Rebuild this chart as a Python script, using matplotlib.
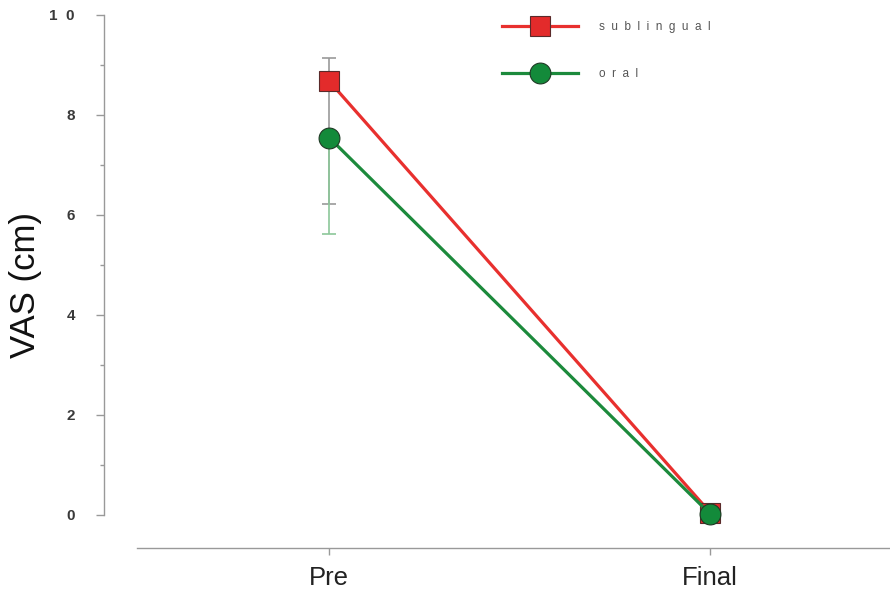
import matplotlib
matplotlib.use("Agg")
import matplotlib.pyplot as plt
import numpy as np

plt.rcParams['font.family'] = ['Liberation Sans', 'DejaVu Sans']

timepoints = ["Pre", "Final"]
sub_mean = [8.68, 0.05]
sub_err_lo = [2.46, 0.0]
sub_err_hi = [0.46, 0.0]
oral_mean = [7.55, 0.02]
oral_err_lo = [1.93, 0.0]
oral_err_hi = [0.0, 0.0]
yticks = [0, 2, 4, 6, 8, 10]
ytick_labels = ["0", "2", "4", "6", "8", "1  0"]

fig = plt.figure(figsize=(8.9, 5.89), dpi=100)
ax = fig.add_axes([104/890, 41/589, 786/890, 533/589])

x = np.arange(len(timepoints))
red = "#e8302e"
green = "#1c8a3c"

# error bars first
ax.errorbar(x, sub_mean, yerr=[sub_err_lo, sub_err_hi], fmt='none',
            ecolor="#999999", elinewidth=1.2, capsize=5, capthick=1.2, zorder=2)
ax.errorbar(x, oral_mean, yerr=[oral_err_lo, oral_err_hi], fmt='none',
            ecolor="#8cc79a", elinewidth=1.2, capsize=5, capthick=1.2, zorder=2)

ax.plot(x, sub_mean, color=red, lw=2.3, marker='s', ms=14,
        markerfacecolor="#e32b2b", markeredgecolor="#5a2a2a", mew=0.8,
        label="s  u  b  l  i  n  g  u  a  l", zorder=3, clip_on=False)
ax.plot(x, oral_mean, color=green, lw=2.3, marker='o', ms=15,
        markerfacecolor="#138a3a", markeredgecolor="#1f3a25", mew=0.8,
        label="o  r  a  l", zorder=4, clip_on=False)

ax.set_xlim(-0.5906, 1.472)
ax.set_ylim(-0.66, 10)

for s in ["top", "right"]:
    ax.spines[s].set_visible(False)
ax.spines["left"].set_bounds(0, 10)
ax.spines["bottom"].set_bounds(-0.504, 1.472)
for s in ["left", "bottom"]:
    ax.spines[s].set_color("#999999")
    ax.spines[s].set_linewidth(1.0)

ax.set_yticks(yticks)
ax.set_yticklabels(ytick_labels, fontweight='bold')
ax.set_yticks([1, 3, 5, 7, 9], minor=True)
ax.tick_params(axis='y', which='major', length=6, width=1, color="#999999",
               pad=15, labelsize=11, labelcolor="#3a3a3a")
ax.tick_params(axis='y', which='minor', length=3, width=1, color="#999999")
ax.set_xticks(x)
ax.set_xticklabels(timepoints)
ax.tick_params(axis='x', length=5, width=1, color="#999999", pad=8,
               labelsize=18.5, labelcolor="#222222")

ax.set_ylabel("VAS (cm)", fontsize=25, color="#111111")
ax.yaxis.set_label_coords(-0.079, 0.493)

leg = ax.legend(loc='upper left', bbox_to_anchor=(502/890, 1 - 21/589),
                bbox_transform=fig.transFigure, frameon=False,
                fontsize=8.5, handlelength=6.4, handletextpad=1.8,
                labelspacing=3.0, borderpad=0, borderaxespad=0)
for t in leg.get_texts():
    t.set_color("#555555")

fig.savefig("out.png", dpi=100)
